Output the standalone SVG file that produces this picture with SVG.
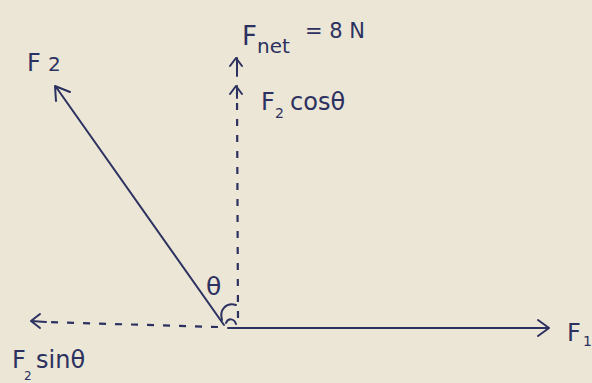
<svg xmlns="http://www.w3.org/2000/svg" width="592" height="383" viewBox="0 0 592 383">
<defs>
<style>
.ink{stroke:#2c3160;fill:none;stroke-width:2;stroke-linecap:round;stroke-linejoin:round}
.dash{stroke:#2c3160;fill:none;stroke-width:2.2;stroke-dasharray:7 9}
.t{font-family:"DejaVu Sans","Liberation Sans",sans-serif;fill:#2c3160}
</style>
</defs>
<rect width="592" height="383" fill="#ebe6d6"/>
<g id="connectors">
<path id="f1" class="ink" d="M228 328 L548 328 M538 320 L549 328 L538 336"/>
<path id="f2" class="ink" d="M224 325 L56 87 M56 101 L55 86 L70 92"/>
<path id="fnet-line" class="dash" d="M238 318 L237 92"/>
<path id="fnet-arrows" class="ink" d="M230 94 L236 86 L242 94 M237 86 L237 98 M230 66 L236 58 L242 66 M237 58 L237 76"/>
<path id="fsin-line" class="dash" d="M218 327 L44 322"/>
<path id="fsin-arrow" class="ink" d="M40 314 L31 321 L40 328 M31 321 L46 322"/>
<path id="angle" class="ink" d="M222 320 C219 310 226 302 236 305 M226 323 C228 318 234 318 236 324"/>
</g>
<g id="label-f2"><text class="t" x="27" y="71" font-size="24">F</text><text class="t" x="48" y="71" font-size="20">2</text></g>
<g id="label-fnet"><text class="t" x="242" y="45" font-size="26">F</text><text class="t" x="257" y="53" font-size="20">net</text><text class="t" x="305" y="38" font-size="21">= 8 N</text></g>
<g id="label-fcos"><text class="t" x="261" y="110" font-size="24">F</text><text class="t" x="275" y="118" font-size="14">2</text><text class="t" x="290" y="110" font-size="24">cosθ</text></g>
<g id="label-fsin"><text class="t" x="12" y="368" font-size="24">F</text><text class="t" x="24" y="380" font-size="12">2</text><text class="t" x="36" y="368" font-size="24">sinθ</text></g>
<g id="label-theta"><text class="t" x="206" y="295" font-size="25">θ</text></g>
<g id="label-f1"><text class="t" x="567" y="341" font-size="24">F</text><text class="t" x="583" y="346" font-size="14">1</text></g>
</svg>
